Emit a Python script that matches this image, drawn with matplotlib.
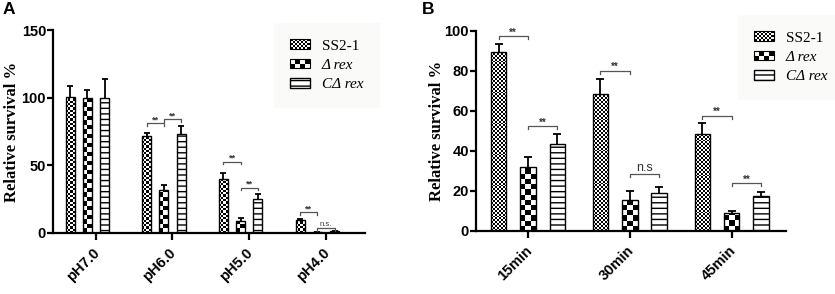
import numpy as np
import matplotlib
matplotlib.use("Agg")
import matplotlib.pyplot as plt
from matplotlib.patches import Rectangle
from matplotlib.legend_handler import HandlerBase
from matplotlib.transforms import ScaledTranslation

plt.rcParams['hatch.linewidth'] = 1.0

# panel A - acid stress
ph_labels = ['pH7.0', 'pH6.0', 'pH5.0', 'pH4.0']
ph_ss2 = [100.4, 71.5, 40.2, 9.9]
ph_ss2_err = [8.2, 2.5, 4.0, 0.7]
ph_drex = [100.0, 31.6, 8.6, 0.6]
ph_drex_err = [5.6, 3.9, 2.4, 0.0]
ph_cdrex = [100.0, 73.5, 25.4, 1.2]
ph_cdrex_err = [13.5, 5.5, 3.6, 0.3]
# (group, bar a, bar b, height, text)
ph_sig = [(1, 0, 1, 81.0, '**'), (1, 1, 2, 84.2, '**'),
          (2, 0, 1, 52.7, '**'), (2, 1, 2, 33.5, '**'),
          (3, 0, 1, 15.3, '**'), (3, 1, 2, 3.5, 'n.s.')]

# panel B - time course
time_labels = ['15min', '30min', '45min']
t_ss2 = [89.2, 68.2, 48.6]
t_ss2_err = [4.1, 7.8, 5.1]
t_drex = [32.1, 15.3, 8.8]
t_drex_err = [4.7, 4.7, 1.3]
t_cdrex = [43.6, 18.8, 17.3]
t_cdrex_err = [5.0, 3.2, 2.3]
t_sig = [(0, 0, 1, 97.3, '**'), (0, 1, 2, 52.4, '**'),
         (1, 0, 1, 80.0, '**'), (1, 1, 2, 28.5, 'n.s'),
         (2, 0, 1, 57.6, '**'), (2, 1, 2, 23.8, '**')]

legend_labels = ['SS2-1', 'Δ rex', 'CΔ rex']

SANS = 'Liberation Sans'
SERIF = 'Liberation Serif'


class CheckerHandler(HandlerBase):
    def __init__(self, ncols):
        super().__init__()
        self.ncols = ncols

    def create_artists(self, legend, orig_handle, xdescent, ydescent,
                       width, height, fontsize, trans):
        x0, y0 = -xdescent, -ydescent
        arts = []
        cw = width / self.ncols
        ny = max(1, int(round(height / cw)))
        ch = height / ny
        for i in range(self.ncols):
            for j in range(ny):
                if (i + j) % 2 == 0:
                    arts.append(Rectangle((x0 + i * cw, y0 + j * ch), cw, ch,
                                          fc='black', ec='none', transform=trans))
        arts.append(Rectangle((x0, y0), width, height, fc='none', ec='black',
                              lw=0.8, transform=trans))
        return arts


def checker_fill(ax, bars, cell_px):
    fig = ax.figure
    bb = ax.get_position()
    x0l, x1l = ax.get_xlim()
    y0l, y1l = ax.get_ylim()
    px_x = bb.width * fig.get_figwidth() * fig.dpi / (x1l - x0l)
    px_y = bb.height * fig.get_figheight() * fig.dpi / (y1l - y0l)
    for r in bars:
        x0, w, h = r.get_x(), r.get_width(), r.get_height()
        nx = max(1, int(round(w * px_x / cell_px)))
        cw_px = w * px_x / nx
        ch = cw_px / px_y
        ny = max(1, int(np.ceil(h / ch)))
        arr = np.add.outer(np.arange(ny), np.arange(nx)) % 2
        im = ax.imshow(arr, cmap='gray', vmin=0, vmax=1, origin='lower',
                       extent=(x0, x0 + w, 0, ny * ch), interpolation='nearest',
                       aspect='auto', zorder=1.5)
        im.set_clip_path(r)
    ax.set_xlim(x0l, x1l)
    ax.set_ylim(y0l, y1l)


def panel(ax, labels, series, errs, sig, xlim, ylim, yticks, off, step, width,
          coarse_px, cap, tick_h, sig_fs, ns_fs, lab_shift):
    x = np.arange(len(labels))
    ax.set_xlim(*xlim)
    ax.set_ylim(*ylim)
    pos = [x + off + (k - 1) * step for k in range(3)]

    b_ss = ax.bar(pos[0], series[0], width, facecolor='none', edgecolor='black',
                  lw=1.0, zorder=2)
    b_dr = ax.bar(pos[1], series[1], width, facecolor='none', edgecolor='black',
                  lw=1.0, zorder=2)
    b_cd = ax.bar(pos[2], series[2], width, facecolor='white', edgecolor='black',
                  hatch='---', lw=1.0, zorder=2)
    checker_fill(ax, b_ss, 2.0)
    checker_fill(ax, b_dr, coarse_px)

    for p, v, e in zip(pos, series, errs):
        eb = ax.errorbar(p, v, yerr=[np.zeros(len(e)), e], fmt='none',
                         ecolor='black', elinewidth=1.3, capsize=cap,
                         capthick=1.3, zorder=3)
        eb[1][0].set_visible(False)

    for g, a, b, y, txt in sig:
        xa, xb = pos[a][g], pos[b][g]
        ax.plot([xa, xa, xb, xb], [y - tick_h, y, y, y - tick_h],
                color='#555555', lw=0.9, zorder=3)
        if txt == '**':
            ax.annotate(txt, ((xa + xb) / 2, y), xytext=(0, 2.5),
                        textcoords='offset points', ha='center', va='center',
                        fontsize=sig_fs, fontweight='bold', family=SANS,
                        color='#333333')
        else:
            ax.annotate(txt, ((xa + xb) / 2, y), xytext=(0, 0),
                        textcoords='offset points', ha='center', va='bottom',
                        fontsize=ns_fs, family=SANS, color='#333333')

    ax.spines['top'].set_visible(False)
    ax.spines['right'].set_visible(False)
    for s in ['left', 'bottom']:
        ax.spines[s].set_linewidth(1.6)
    ax.set_yticks(yticks)
    ax.set_xticks(x)
    ax.set_xticklabels(labels, rotation=45, ha='right')
    ax.tick_params(axis='y', length=4, width=1.6, pad=1, labelsize=10.5)
    ax.tick_params(axis='x', length=5, width=1.6, pad=4, labelsize=10.5)
    for t in ax.get_xticklabels() + ax.get_yticklabels():
        t.set_fontfamily(SANS)
        t.set_fontweight('bold')
    shift = ScaledTranslation(lab_shift / 72, 0, ax.figure.dpi_scale_trans)
    for t in ax.get_xticklabels():
        t.set_transform(t.get_transform() + shift)
    ax.set_ylabel('Relative survival %', fontfamily=SERIF, fontweight='bold',
                  fontsize=12)
    return b_ss, b_dr, b_cd


def add_legend(ax, handles, anchor, coarse_cols):
    leg = ax.legend(handles, legend_labels, loc='upper left',
                    bbox_to_anchor=anchor, bbox_transform=ax.figure.transFigure,
                    prop={'family': SERIF, 'size': 11},
                    handler_map={handles[0]: CheckerHandler(9),
                                 handles[1]: CheckerHandler(coarse_cols)},
                    handlelength=1.25, handleheight=0.6, handletextpad=0.8,
                    labelspacing=0.4, borderpad=1.1, frameon=True,
                    fancybox=False, facecolor='#fafaf8', edgecolor='none',
                    framealpha=1)
    for t in leg.get_texts()[1:]:
        t.set_fontstyle('italic')
    return leg


fig = plt.figure(figsize=(8.35, 2.94), dpi=100)
W, H = 835.0, 294.0
axA = fig.add_axes([53 / W, 1 - 233 / H, 312 / W, 203 / H])
axB = fig.add_axes([476 / W, 1 - 231 / H, 310 / W, 200.5 / H])

hA = panel(axA, ph_labels, [ph_ss2, ph_drex, ph_cdrex],
           [ph_ss2_err, ph_drex_err, ph_cdrex_err], ph_sig,
           (-0.557, 3.511), (0, 150), [0, 50, 100, 150],
           -0.11, 0.225, 0.117, 4.5, 2.3, 2.0, 6.5, 5.5, 4.5)
hB = panel(axB, time_labels, [t_ss2, t_drex, t_cdrex],
           [t_ss2_err, t_drex_err, t_cdrex_err], t_sig,
           (-0.51, 2.533), (0, 100), [0, 20, 40, 60, 80, 100],
           0.0, 0.288, 0.152, 5.0, 3.0, 1.5, 7.0, 9.0, 5.0)
axA.yaxis.set_label_coords(-0.106, 0.5)
axB.yaxis.set_label_coords(-0.10, 0.5)

add_legend(axA, hA, (266 / W, 1 - 15 / H), 4)
add_legend(axB, hB, (730 / W, 1 - 7 / H), 4)

fig.text(3 / W, 1 - 2 / H, 'A', fontsize=12.5, fontweight='bold', family=SANS,
         ha='left', va='top')
fig.text(422 / W, 1 - 2 / H, 'B', fontsize=12.5, fontweight='bold', family=SANS,
         ha='left', va='top')

fig.savefig('out.png', dpi=100)
